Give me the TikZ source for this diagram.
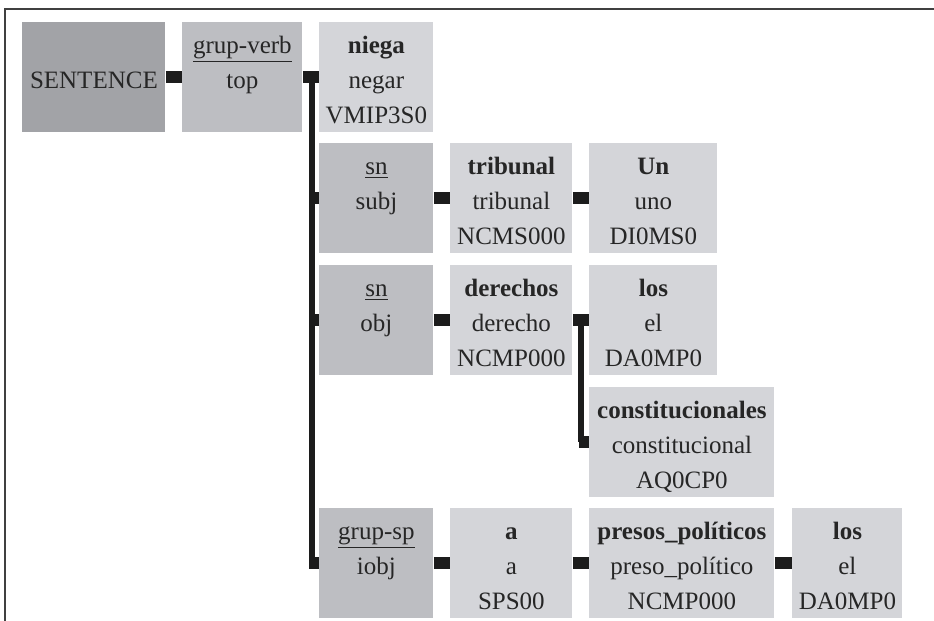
\documentclass[tikz,border=0pt]{standalone}
\usepackage{fontspec}
\setmainfont{Liberation Serif}

\definecolor{darkcell}{RGB}{162,163,167}
\definecolor{midcell}{RGB}{189,190,194}
\definecolor{lightcell}{RGB}{212,213,217}
\definecolor{ink}{RGB}{28,28,28}

% three text lines of a cell
\newcommand{\cell}[3]{\rule{0pt}{15.5pt}#1\\#2\\#3\rule[-4.5pt]{0pt}{4.5pt}}

\begin{document}
\begin{tikzpicture}[x=0.5pt,y=-0.5pt,
    box/.style={anchor=north west,inner sep=0pt,minimum height=55pt,align=center,
      text=black!85,font=\fontsize{12.5}{17.5}\selectfont},
    dark/.style={box,fill=darkcell},
    mid/.style={box,fill=midcell},
    light/.style={box,fill=lightcell},
    bar/.style={draw=ink,line width=6pt},
    trunk/.style={draw=ink,line width=3pt}]
  \useasboundingbox (0,0) rectangle (934,621);

  % Frame
  \draw[black!75,line width=1pt] (5,621) -- (5,9) -- (934,9);

  % Head
  \node[dark,minimum width=71.5pt] (sent) at (22,22) {\cell{}{SENTENCE}{}};
  \node[mid,minimum width=60pt] (gverb) at (182,22) {\cell{\underline{grup-verb}}{top}{}};
  \node[light,minimum width=57pt] (niega) at (319,22) {\cell{\textbf{niega}}{negar}{VMIP3S0}};

  % Subject
  \node[mid,minimum width=57pt] (subj) at (319,143) {\cell{\underline{sn}}{subj}{}};
  \node[light,minimum width=61pt] (tribunal) at (450,143) {\cell{\textbf{tribunal}}{tribunal}{NCMS000}};
  \node[light,minimum width=64pt] (un) at (589,143) {\cell{\textbf{Un}}{uno}{DI0MS0}};

  % Object
  \node[mid,minimum width=57pt] (obj) at (319,265) {\cell{\underline{sn}}{obj}{}};
  \node[light,minimum width=61pt] (derechos) at (450,265) {\cell{\textbf{derechos}}{derecho}{NCMP000}};
  \node[light,minimum width=64pt] (los) at (589,265) {\cell{\textbf{los}}{el}{DA0MP0}};
  \node[light,minimum width=92.5pt] (constit) at (589,387) {\cell{\textbf{constitucionales}}{constitucional}{AQ0CP0}};

  % Indirect object
  \node[mid,minimum width=57pt] (iobj) at (319,508) {\cell{\underline{grup-sp}}{iobj}{}};
  \node[light,minimum width=61pt] (prep) at (450,508) {\cell{\textbf{a}}{a}{SPS00}};
  \node[light,minimum width=92.5pt] (presos) at (589,508) {\cell{\textbf{presos\_políticos}}{preso\_político}{NCMP000}};
  \node[light,minimum width=55pt] (los2) at (792,508) {\cell{\textbf{los}}{el}{DA0MP0}};

  % Links
  \draw[bar] (sent.east) -- (gverb.west);
  \draw[bar] (gverb.east) -- (niega.west);
  \draw[bar] (subj.east) -- (tribunal.west);
  \draw[bar] (tribunal.east) -- (un.west);
  \draw[bar] (obj.east) -- (derechos.west);
  \draw[bar] (derechos.east) -- (los.west);
  \draw[bar] (iobj.east) -- (prep.west);
  \draw[bar] (prep.east) -- (presos.west);
  \draw[bar] (presos.east) -- (los2.west);

  % Vertical branches
  \coordinate (split) at ([xshift=4.5pt]gverb.east);
  \coordinate (splitl) at ([xshift=3pt]gverb.east);
  \draw[trunk] (split) -- (split |- iobj.west);
  \foreach \n in {subj,obj,iobj}
    \draw[bar] (\n.west) -- (splitl |- \n.west);

  \coordinate (fork) at ([xshift=4pt]derechos.east);
  \coordinate (forkl) at ([xshift=3pt]derechos.east);
  \draw[trunk] (fork) -- (fork |- constit.west);
  \draw[bar] (constit.west) -- (forkl |- constit.west);
\end{tikzpicture}
\end{document}
